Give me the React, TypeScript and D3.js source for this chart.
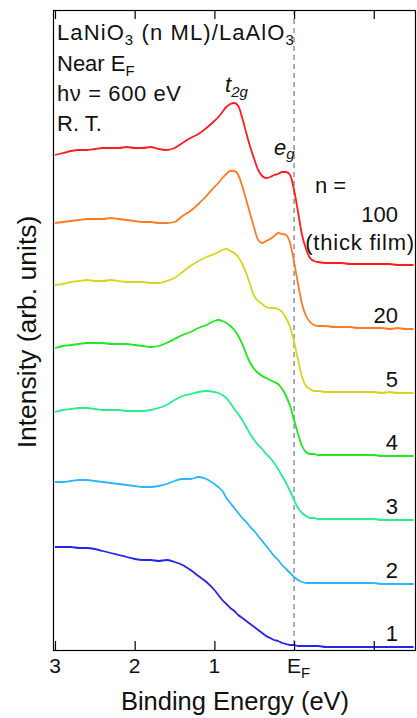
import React, { useEffect, useRef } from "react";
import * as d3 from "d3";

// binding energy grid (eV), finer near the t2g / eg / Fermi edge region
const energies = [
  3.0, 2.9, 2.8, 2.7, 2.6, 2.5, 2.4, 2.3, 2.2, 2.1, 2.0, 1.9, 1.8, 1.7, 1.6, 1.5, 1.4, 1.3, 1.2, 1.1,
  1.0, 0.95, 0.9, 0.85, 0.8, 0.75, 0.7, 0.65, 0.6, 0.55, 0.5, 0.45, 0.4, 0.35, 0.3, 0.25, 0.2, 0.15, 0.1, 0.05,
  0, -0.05, -0.1, -0.15, -0.2, -0.25, -0.3,
  -0.4, -0.5, -0.6, -0.7, -0.8, -0.9, -1.0, -1.1, -1.2, -1.3, -1.4, -1.5,
];

// intensities (arb. units, already offset for the stack)
const n100 = [
  495, 497, 499, 500, 500, 501, 502, 502, 502, 503, 502, 502, 503, 501, 500, 502, 507, 512, 516, 522,
  529, 533, 538, 543, 546, 547, 544, 532, 517, 503, 491, 480, 474, 472, 473, 475, 476, 478, 478, 475,
  460, 438, 415, 401, 392, 389, 388,
  387, 387, 387, 386, 386, 386, 386, 386, 386, 385, 385, 385,
];
const n20 = [
  427, 428, 429, 430, 431, 431, 431, 432, 431, 430, 429, 428, 428, 427, 427, 428, 434, 439, 446, 454,
  463, 467, 472, 476, 479, 479, 475, 464, 450, 436, 422, 410, 407, 409, 411, 414, 417, 416, 415, 407,
  388, 366, 346, 334, 328, 325, 324,
  324, 323, 323, 323, 322, 322, 322, 322, 321, 322, 321, 321,
];
const n5 = [
  365, 366, 368, 369, 370, 369, 369, 370, 369, 368, 368, 368, 367, 367, 369, 372, 378, 384, 389, 393,
  396, 398, 400, 401, 399, 397, 393, 386, 377, 365, 354, 349, 346, 343, 342, 342, 341, 338, 332, 323,
  308, 290, 273, 264, 261, 259, 259,
  258, 258, 258, 258, 258, 258, 258, 257, 258, 257, 257, 257,
];
const n4 = [
  302, 304, 305, 306, 307, 307, 307, 306, 306, 306, 305, 304, 303, 304, 307, 311, 315, 318, 322, 325,
  329, 330, 329, 327, 324, 320, 314, 306, 296, 287, 281, 277, 274, 272, 270, 268, 266, 261, 254, 244,
  230, 216, 204, 198, 196, 196, 195,
  195, 195, 195, 195, 195, 195, 195, 194, 194, 194, 194, 194,
];
const n3 = [
  238, 240, 241, 242, 242, 241, 240, 240, 240, 239, 239, 239, 240, 242, 245, 250, 254, 256, 258, 259,
  258, 257, 255, 252, 247, 241, 236, 230, 223, 216, 210, 205, 201, 196, 192, 187, 181, 174, 167, 159,
  150, 142, 137, 134, 132, 132, 131,
  131, 131, 131, 131, 131, 131, 131, 130, 130, 130, 130, 130,
];
const n2 = [
  168, 168, 169, 170, 170, 169, 168, 167, 166, 165, 164, 163, 163, 164, 166, 169, 171, 171, 173, 171,
  166, 163, 159, 152, 147, 142, 137, 132, 128, 123, 119, 114, 109, 104, 99, 94, 90, 85, 81, 77,
  73, 70, 68, 67, 67, 67, 67,
  67, 67, 67, 67, 67, 67, 67, 66, 66, 66, 66, 66,
];
const n1 = [
  103, 103, 103, 102, 102, 101, 99, 97, 95, 93, 91, 90, 90, 89, 90, 88, 85, 80, 74, 68,
  60, 55, 50, 46, 42, 39, 35, 32, 29, 26, 23, 20, 17, 14, 12, 10, 9, 7, 6, 5,
  5, 4, 4, 4, 4, 4, 4,
  3, 3, 3, 3, 3, 3, 3, 3, 3, 3, 3, 3,
];

const spectra = [n100, n20, n5, n4, n3, n2, n1];
const nLabels = ["100", "20", "5", "4", "3", "2", "1"];
const colors = ["#ff1c1c", "#ff7a22", "#d6d41c", "#1ee81e", "#26ee8c", "#2ab6ff", "#2424ee"];
const xTicks = [3, 2, 1, 0, -1];
const xTickLabels = ["3", "2", "1", "E", ""];

const FONT = "'Liberation Sans', Arial, Helvetica, sans-serif";

export default function App() {
  const ref = useRef<SVGSVGElement>(null);

  useEffect(() => {
    const W = 417, H = 718;
    const margin = { top: 10, right: 1, bottom: 68, left: 53 };

    const svg = d3.select(ref.current);
    svg.selectAll("*").remove();

    const x = d3.scaleLinear().domain([3.025, -1.53]).range([margin.left, W - margin.right]);
    const y = d3.scaleLinear().domain([0, 640]).range([H - margin.bottom, margin.top]);

    // Fermi level marker
    svg.append("line")
      .attr("x1", x(0)).attr("x2", x(0))
      .attr("y1", y(640)).attr("y2", y(0))
      .attr("stroke", "#9a9a9a")
      .attr("stroke-width", 1.6)
      .attr("stroke-dasharray", "5,4");

    // spectra
    const line = d3.line<number>()
      .x((d, i) => x(energies[i]))
      .y((d) => y(d))
      .curve(d3.curveMonotoneX);

    spectra.forEach((s, k) => {
      svg.append("path")
        .attr("d", line(s))
        .attr("fill", "none")
        .attr("stroke", colors[k])
        .attr("stroke-width", 1.8)
        .attr("stroke-linejoin", "round");
    });

    // frame + inward ticks top and bottom
    svg.append("rect")
      .attr("x", margin.left + 0.5)
      .attr("y", margin.top + 0.5)
      .attr("width", W - margin.right - margin.left - 1)
      .attr("height", H - margin.bottom - margin.top)
      .attr("fill", "none")
      .attr("stroke", "#000")
      .attr("stroke-width", 1.2);

    const bottom = svg.append("g")
      .attr("transform", `translate(0,${y(0)})`)
      .call(d3.axisBottom(x).tickValues(xTicks).tickSizeInner(-9).tickSizeOuter(0).tickFormat(() => ""));
    const top = svg.append("g")
      .attr("transform", `translate(0,${y(640)})`)
      .call(d3.axisTop(x).tickValues(xTicks).tickSizeInner(-9).tickSizeOuter(0).tickFormat(() => ""));
    [bottom, top].forEach((g) => {
      g.select(".domain").remove();
      g.selectAll(".tick line").attr("stroke", "#000").attr("stroke-width", 1.2);
    });

    // tick labels
    xTicks.forEach((t, i) => {
      if (!xTickLabels[i]) return;
      const txt = svg.append("text")
        .attr("y", 673)
        .attr("font-family", FONT)
        .attr("font-size", 21)
        .attr("fill", "#111");
      if (t === 0) {
        txt.attr("x", x(t) - 7).attr("text-anchor", "start").text(xTickLabels[i]);
        txt.append("tspan").attr("dy", 5).attr("font-size", 15).text("F");
      } else {
        txt.attr("x", x(t)).attr("text-anchor", "middle").text(xTickLabels[i]);
      }
    });

    // axis titles
    svg.append("text")
      .attr("x", 235).attr("y", 710)
      .attr("text-anchor", "middle")
      .attr("font-family", FONT).attr("font-size", 25.5).attr("fill", "#111")
      .text("Binding Energy (eV)");

    svg.append("text")
      .attr("transform", "translate(36,332) rotate(-90)")
      .attr("text-anchor", "middle")
      .attr("font-family", FONT).attr("font-size", 26.5).attr("fill", "#111")
      .text("Intensity (arb. units)");

    // header annotation
    const ann = svg.append("g").attr("font-family", FONT).attr("font-size", 22).attr("fill", "#111");
    const l1 = ann.append("text").attr("x", 57).attr("y", 40).attr("letter-spacing", 1.1);
    l1.append("tspan").text("LaNiO");
    l1.append("tspan").attr("dy", 5).attr("font-size", 15).text("3");
    l1.append("tspan").attr("dy", -5).text(" (n ML)/LaAlO");
    l1.append("tspan").attr("dy", 5).attr("font-size", 15).text("3");

    const l2 = ann.append("text").attr("x", 57).attr("y", 71);
    l2.append("tspan").text("Near E");
    l2.append("tspan").attr("dy", 5).attr("font-size", 15).text("F");

    ann.append("text").attr("x", 57).attr("y", 101).attr("letter-spacing", 0.6).text("h\u03bd = 600 eV");
    ann.append("text").attr("x", 57).attr("y", 131).text("R. T.");

    // orbital labels
    const t2g = ann.append("text").attr("x", 225).attr("y", 92).attr("font-style", "italic");
    t2g.append("tspan").text("t");
    t2g.append("tspan").attr("dy", 5).attr("font-size", 15).text("2g");
    const eg = ann.append("text").attr("x", 274).attr("y", 155).attr("font-style", "italic");
    eg.append("tspan").text("e");
    eg.append("tspan").attr("dy", 4).attr("font-size", 15).text("g");

    // thickness labels
    ann.append("text").attr("x", 315).attr("y", 193).text("n =");
    ann.append("text").attr("x", 398).attr("y", 222).attr("text-anchor", "end").text(nLabels[0]);
    ann.append("text").attr("x", 415).attr("y", 250).attr("text-anchor", "end")
      .attr("letter-spacing", 0.8).text("(thick film)");
    spectra.forEach((s, k) => {
      if (k === 0) return;
      ann.append("text")
        .attr("x", 398)
        .attr("y", y(s[s.length - 1]) - 6)
        .attr("text-anchor", "end")
        .text(nLabels[k]);
    });
  }, []);

  return (
    <svg
      ref={ref}
      width={417}
      height={718}
      style={{ position: "absolute", left: 0, top: 0, background: "#fff" }}
    />
  );
}
